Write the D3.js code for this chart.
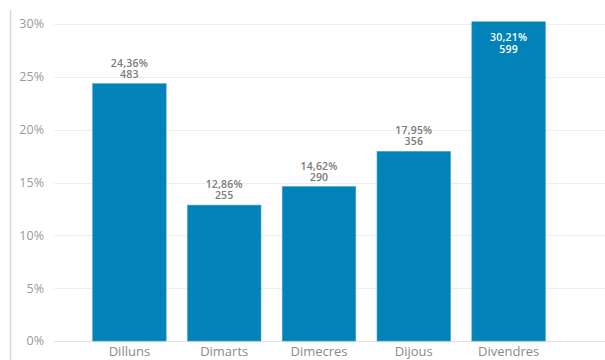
<!DOCTYPE html>
<html>
<head>
<meta charset="utf-8">
<script src="https://cdn.jsdelivr.net/npm/d3@7"></script>
<style>
  body { margin: 0; background: #fff; }
  svg { display: block; }
</style>
</head>
<body>
<div id="chart"></div>
<script>
// Data
const days = ["Dilluns", "Dimarts", "Dimecres", "Dijous", "Divendres"];
const percents = [24.36, 12.86, 14.62, 17.95, 30.21];
const counts = [483, 255, 290, 356, 599];
const yTicks = [0, 5, 10, 15, 20, 25, 30];

const width = 605, height = 360;
const barColor = "#0182b8";

const svg = d3.select("#chart")
    .append("svg")
    .attr("width", width)
    .attr("height", height)
    .style("font-family", "'Open Sans', sans-serif");

const x = d3.scaleBand()
    .domain(days)
    .range([82, 556])
    .paddingInner(0.224)
    .paddingOuter(0.112);

const y = d3.scaleLinear()
    .domain([0, 30])
    .range([341, 24]);

// left border line
svg.append("line")
    .attr("x1", 10.5).attr("x2", 10.5)
    .attr("y1", 10).attr("y2", height)
    .attr("stroke", "#d9d9d9")
    .attr("stroke-width", 1.5);

// gridlines
svg.append("g")
    .selectAll("line")
    .data(yTicks)
    .join("line")
    .attr("x1", 54).attr("x2", width)
    .attr("y1", d => Math.round(y(d)) + 0.5)
    .attr("y2", d => Math.round(y(d)) + 0.5)
    .attr("stroke", d => d === 0 ? "#e2e2e2" : "#eeeeee");

// y tick labels
svg.append("g")
    .selectAll("text")
    .data(yTicks)
    .join("text")
    .attr("x", 44)
    .attr("y", d => y(d))
    .attr("dy", "0.35em")
    .attr("text-anchor", "end")
    .attr("fill", "#9a9a9a")
    .style("font-size", "12.5px")
    .text(d => d + "%");

// bars
svg.append("g")
    .selectAll("rect")
    .data(days)
    .join("rect")
    .attr("x", d => x(d))
    .attr("width", x.bandwidth())
    .attr("y", (d, i) => y(percents[i]))
    .attr("height", (d, i) => y(0) - y(percents[i]))
    .attr("fill", barColor)
    .attr("stroke", "#4aa6cf")
    .attr("stroke-width", 0.6);

// value labels: above the bar, or inside when the bar is too tall
const fmt = v => v.toFixed(2).replace(".", ",") + "%";
const isInside = i => y(percents[i]) < 40;
const labels = svg.append("g")
    .selectAll("text")
    .data(days)
    .join("text")
    .attr("text-anchor", "middle")
    .attr("fill", (d, i) => isInside(i) ? "#ffffff" : "#7a7a7a")
    .style("font-size", "10.5px")
    .style("font-weight", 600)
    .style("letter-spacing", "0.2px");
labels.append("tspan")
    .attr("x", d => x(d) + x.bandwidth() / 2)
    .attr("y", (d, i) => isInside(i) ? y(percents[i]) + 19 : y(percents[i]) - 17)
    .text((d, i) => fmt(percents[i]));
labels.append("tspan")
    .attr("x", d => x(d) + x.bandwidth() / 2)
    .attr("dy", (d, i) => isInside(i) ? 12 : 11)
    .text((d, i) => counts[i]);

// category labels
svg.append("g")
    .selectAll("text")
    .data(days)
    .join("text")
    .attr("x", d => x(d) + x.bandwidth() / 2)
    .attr("y", 356)
    .attr("text-anchor", "middle")
    .attr("fill", "#8a8a8a")
    .style("font-size", "13px")
    .text(d => d);
</script>
</body>
</html>
